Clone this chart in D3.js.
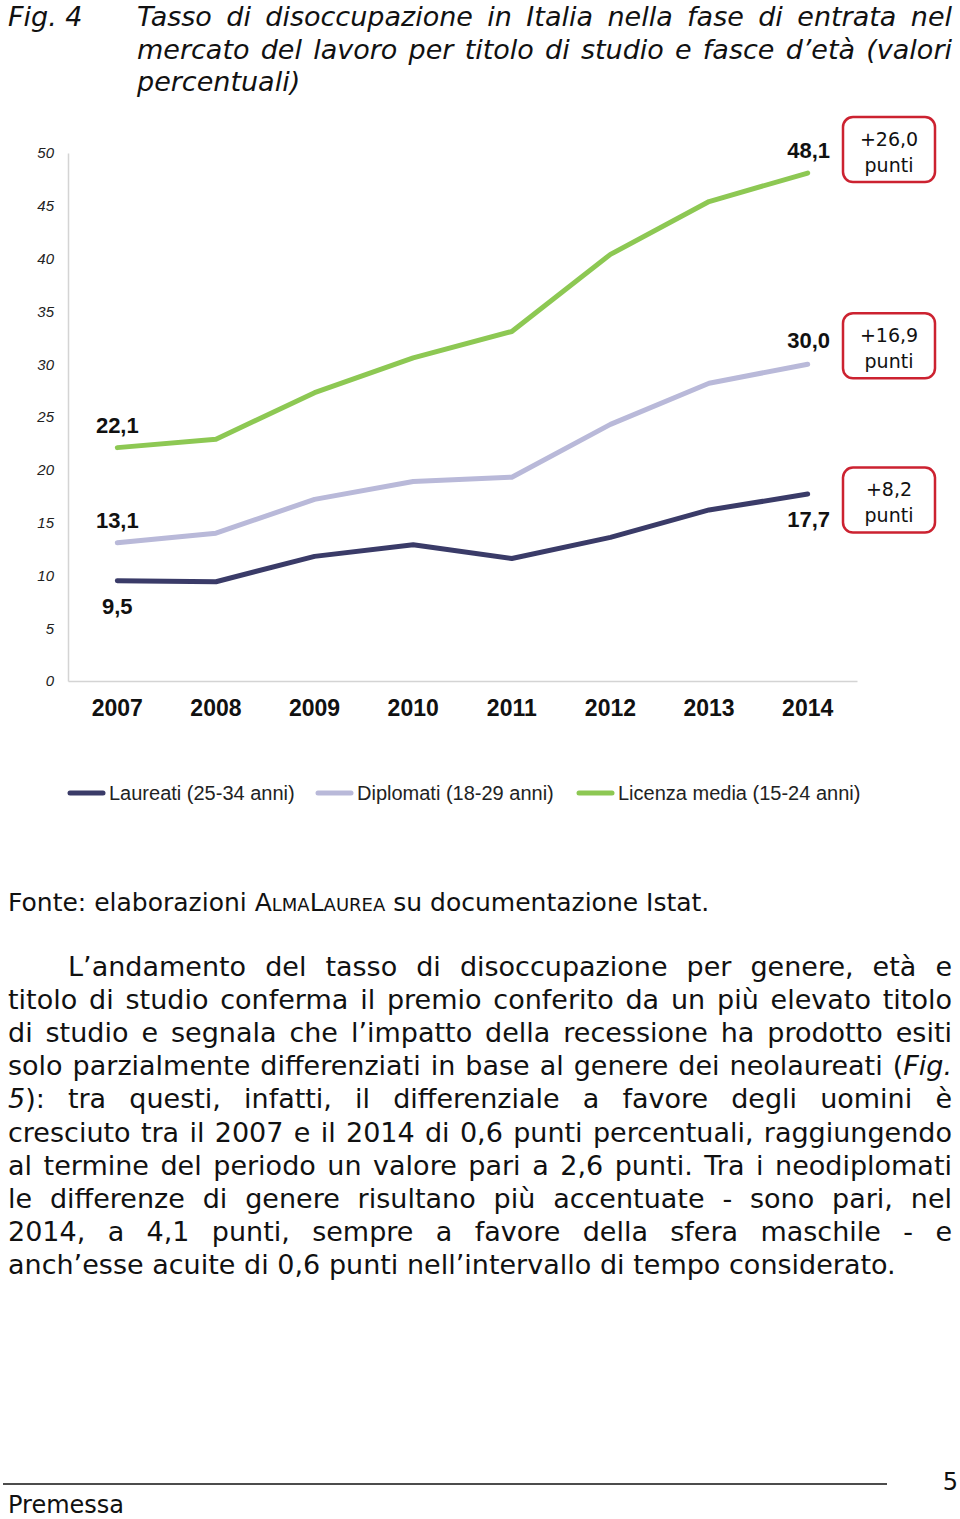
<!DOCTYPE html>
<html><head><meta charset="utf-8">
<script src="https://cdn.jsdelivr.net/npm/d3@7"></script>
<style>
html,body{margin:0;padding:0;background:#fff;}
svg{display:block;}
</style></head>
<body>
<svg id="c" width="960" height="1519"></svg>
<script>
// ---- data ----
const years = [2007, 2008, 2009, 2010, 2011, 2012, 2013, 2014];
const laureati = [9.5, 9.4, 11.8, 12.9, 11.6, 13.6, 16.2, 17.7];
const diplomati = [13.1, 14.0, 17.2, 18.9, 19.3, 24.3, 28.2, 30.0];
const licenzaMedia = [22.1, 22.9, 27.3, 30.6, 33.1, 40.4, 45.4, 48.1];
const seriesNames = ["Laureati (25-34 anni)", "Diplomati (18-29 anni)", "Licenza media (15-24 anni)"];
const deltaLabels = ["+8,2", "+16,9", "+26,0"];
const yTicks = [0, 5, 10, 15, 20, 25, 30, 35, 40, 45, 50];
const titleLines = [
  "Tasso di disoccupazione in Italia nella fase di entrata nel",
  "mercato del lavoro per titolo di studio e fasce d\u2019et\u00e0 (valori",
  "percentuali)"
];
const bodyLines = [
  "L\u2019andamento del tasso di disoccupazione per genere, et\u00e0 e",
  "titolo di studio conferma il premio conferito da un pi\u00f9 elevato titolo",
  "di studio e segnala che l\u2019impatto della recessione ha prodotto esiti",
  "solo parzialmente differenziati in base al genere dei neolaureati (*Fig.*",
  "*5*): tra questi, infatti, il differenziale a favore degli uomini \u00e8",
  "cresciuto tra il 2007 e il 2014 di 0,6 punti percentuali, raggiungendo",
  "al termine del periodo un valore pari a 2,6 punti. Tra i neodiplomati",
  "le differenze di genere risultano pi\u00f9 accentuate - sono pari, nel",
  "2014, a 4,1 punti, sempre a favore della sfera maschile - e",
  "anch\u2019esse acuite di 0,6 punti nell\u2019intervallo di tempo considerato."
];

const series = [
  {name: seriesNames[0], values: laureati, color: "#3a3b68", delta: deltaLabels[0]},
  {name: seriesNames[1], values: diplomati, color: "#b9b9d9", delta: deltaLabels[1]},
  {name: seriesNames[2], values: licenzaMedia, color: "#8dc853", delta: deltaLabels[2]}
];

const svg = d3.select("#c");
const SANS = "'DejaVu Sans', Verdana, sans-serif";
const ARIAL = "'Liberation Sans', Arial, sans-serif";

// ---- scales ----
const x = d3.scaleBand().domain(years).range([68, 857]);
const xc = d => x(d) + x.bandwidth() / 2;
const y = d3.scaleLinear().domain([0, 50]).range([681, 153]);

// ---- axes ----
const gy = svg.append("g").attr("transform", "translate(68,0)")
  .call(d3.axisLeft(y).tickValues(yTicks).tickSize(0).tickPadding(14));
gy.select(".domain").attr("stroke", "#d4d4d4").attr("stroke-width", 1.5);
gy.selectAll("text").attr("font-family", ARIAL).attr("font-style", "italic")
  .attr("font-size", 15).attr("fill", "#222");

const gx = svg.append("g").attr("transform", "translate(0,681)")
  .call(d3.axisBottom(x).tickSize(0).tickPadding(19));
gx.select(".domain").attr("stroke", "#d4d4d4").attr("stroke-width", 1.5);
gx.selectAll("text").attr("font-family", ARIAL).attr("font-weight", "bold")
  .attr("font-size", 23).attr("fill", "#111");

// ---- lines ----
const line = d3.line().x((d, i) => xc(years[i])).y(d => y(d));
svg.append("g").selectAll("path").data(series).join("path")
  .attr("d", s => line(s.values))
  .attr("fill", "none").attr("stroke", s => s.color)
  .attr("stroke-width", 5).attr("stroke-linecap", "round").attr("stroke-linejoin", "round");

// ---- value labels ----
const fmt = v => d3.format(".1f")(v).replace(".", ",");
const startOff = [33, -15, -15];
const endOff = [33, -16, -15];
series.forEach((s, i) => {
  svg.append("text").attr("x", xc(years[0])).attr("y", y(s.values[0]) + startOff[i])
    .attr("text-anchor", "middle").attr("font-family", ARIAL).attr("font-weight", "bold")
    .attr("font-size", 22).attr("fill", "#111").text(fmt(s.values[0]));
  const last = s.values[s.values.length - 1];
  svg.append("text").attr("x", 830).attr("y", y(last) + endOff[i])
    .attr("text-anchor", "end").attr("font-family", ARIAL).attr("font-weight", "bold")
    .attr("font-size", 22).attr("fill", "#111").text(fmt(last));
});

// ---- delta boxes ----
const boxOff = [6, -18.5, -23.5];
series.forEach((s, i) => {
  const last = s.values[s.values.length - 1];
  const cy = y(last) + boxOff[i];
  const g = svg.append("g").attr("transform", `translate(889,${cy})`);
  g.append("rect").attr("x", -46).attr("y", -32.5).attr("width", 92).attr("height", 65)
    .attr("rx", 10).attr("fill", "#fff").attr("stroke", "#cc2230").attr("stroke-width", 2.5);
  g.append("text").attr("y", -4).attr("text-anchor", "middle").attr("font-family", SANS)
    .attr("font-size", 19).attr("fill", "#111").text(s.delta);
  g.append("text").attr("y", 22).attr("text-anchor", "middle").attr("font-family", SANS)
    .attr("font-size", 19).attr("fill", "#111").text("punti");
});

// ---- legend ----
const legX = [68, 316, 577];
series.forEach((s, i) => {
  svg.append("line").attr("x1", legX[i] + 2).attr("x2", legX[i] + 35).attr("y1", 793).attr("y2", 793)
    .attr("stroke", s.color).attr("stroke-width", 5).attr("stroke-linecap", "round");
  svg.append("text").attr("x", legX[i] + 41).attr("y", 800).attr("font-family", ARIAL)
    .attr("font-size", 20).attr("fill", "#222").text(s.name);
});

// ---- justified text helper ----
function parseWord(w) {
  const parts = w.split("*");
  return parts.map((t, k) => ({t, it: k % 2 === 1})).filter(p => p.t.length);
}
function drawLine(str, x0, x1, yb, size, justify, baseItalic) {
  const words = str.split(" ");
  const nodes = words.map(w => {
    const t = svg.append("text").attr("y", yb).attr("font-family", SANS)
      .attr("font-size", size).attr("fill", "#111");
    parseWord(w).forEach(p => t.append("tspan")
      .attr("font-style", (p.it !== !!baseItalic) ? "italic" : "normal").text(p.t));
    return t;
  });
  const widths = nodes.map(n => n.node().getComputedTextLength());
  const total = d3.sum(widths);
  const space = size * 0.32;
  const gap = justify && words.length > 1 ? (x1 - x0 - total) / (words.length - 1) : space;
  let cx = x0;
  nodes.forEach((n, i) => { n.attr("x", cx); cx += widths[i] + gap; });
}

// ---- title ----
svg.append("text").attr("x", 8).attr("y", 26).attr("font-family", SANS).attr("font-style", "italic")
  .attr("font-size", 27).attr("fill", "#111").text("Fig. 4");
titleLines.forEach((l, i) => drawLine(l, 137, 952, 26 + i * 32.5, 27, i < titleLines.length - 1, true));

// ---- source ----
const src = svg.append("text").attr("x", 8).attr("y", 911).attr("font-family", SANS)
  .attr("font-size", 25).attr("fill", "#111");
src.append("tspan").text("Fonte: elaborazioni A");
src.append("tspan").attr("font-size", 18).text("LMA");
src.append("tspan").text("L");
src.append("tspan").attr("font-size", 18).text("AUREA");
src.append("tspan").text(" su documentazione Istat.");

// ---- body ----
bodyLines.forEach((l, i) => {
  drawLine(l, i === 0 ? 68 : 8, 952, 976 + i * 33.1, 27, i < bodyLines.length - 1, false);
});

// ---- footer ----
svg.append("line").attr("x1", 3).attr("x2", 887).attr("y1", 1484).attr("y2", 1484)
  .attr("stroke", "#111").attr("stroke-width", 1.5);
svg.append("text").attr("x", 958).attr("y", 1490).attr("text-anchor", "end").attr("font-family", SANS)
  .attr("font-size", 24).attr("fill", "#111").text("5");
svg.append("text").attr("x", 8).attr("y", 1513).attr("font-family", SANS)
  .attr("font-size", 24).attr("fill", "#111").text("Premessa");
</script>
</body></html>
